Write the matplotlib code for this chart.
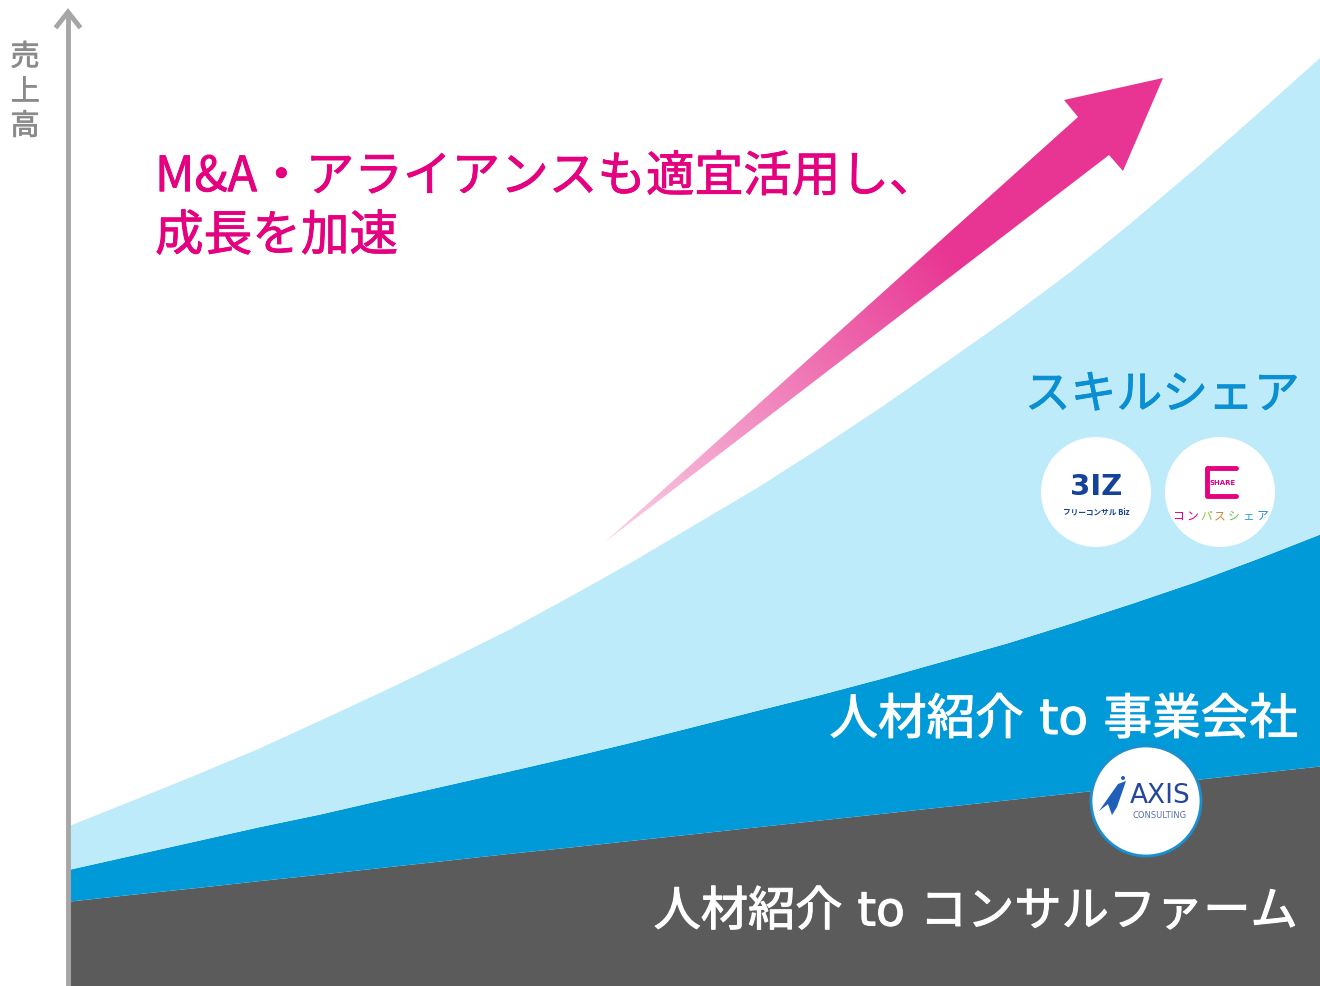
import numpy as np
import matplotlib.pyplot as plt
from matplotlib.patches import Polygon, Circle
import matplotlib.patheffects as pe

plt.rcParams['font.family'] = ['Noto Sans CJK JP', 'DejaVu Sans']

# sales over an arbitrary time index; upper edge of each stacked band
years = [0, 0.5, 1, 1.5, 2, 2.5, 3, 3.5, 4, 4.5, 5, 5.5, 6, 6.5, 7, 7.5, 8, 8.5, 9, 9.5, 10]
top_firm = [8.61, 9.30, 9.96, 10.66, 11.33, 12.03, 12.72, 13.42, 14.08, 14.77, 15.45,
            16.14, 16.82, 17.50, 18.19, 18.87, 19.55, 20.24, 20.92, 21.61, 22.29]
top_biz = [11.85, 13.27, 14.69, 16.11, 17.43, 18.89, 20.32, 21.75, 23.21, 24.74, 26.34,
           27.95, 29.53, 31.21, 32.99, 34.78, 36.75, 38.81, 40.96, 43.32, 45.80]
top_skill = [16.31, 18.84, 21.40, 24.05, 26.95, 29.89, 32.93, 36.07, 39.51, 43.06, 46.81,
             50.56, 54.61, 58.81, 63.22, 67.68, 72.39, 77.51, 82.88, 88.45, 94.12]

layer_colors = ['#5b5b5b', '#009ad9', '#bdebfa']
y_label = '売\n上\n高'
headline = 'M&A・アライアンスも適宜活用し、\n成長を加速'
lbl_skill = 'スキルシェア'
lbl_biz = '人材紹介 to 事業会社'
lbl_firm = '人材紹介 to コンサルファーム'

W, H = 1320, 987
fig = plt.figure(figsize=(W / 100, H / 100), dpi=100)
fig.patch.set_facecolor('white')

# main stacked area
ax = fig.add_axes([70 / W, 0, 1250 / W, 1])
ax.fill_between(years, 0, top_firm, color=layer_colors[0], lw=0)
ax.fill_between(years, top_firm, top_biz, color=layer_colors[1], lw=0)
ax.fill_between(years, top_biz, top_skill, color=layer_colors[2], lw=0)
ax.set_xlim(0, 10)
ax.set_ylim(0, 100)
ax.axis('off')

# overlay in pixel coords for decorations
ov = fig.add_axes([0, 0, 1, 1])
ov.set_xlim(0, W)
ov.set_ylim(H, 0)
ov.axis('off')
ov.patch.set_alpha(0)


def thick(c, w=1.0):
    return [pe.withStroke(linewidth=w, foreground=c)]


# y axis arrow
ov.plot([68, 68], [H, 14], color='#a6a6a6', lw=3.5, solid_capstyle='butt')
ov.plot([57, 68, 79], [27, 13, 27], color='#a6a6a6', lw=3.5, solid_joinstyle='miter')
ov.text(25, 93, y_label, ha='center', va='center', fontsize=21, color='#8a8a8a',
        linespacing=1.2, path_effects=thick('#8a8a8a', 0.5))

# growth arrow with gradient
pts = np.array([[605, 543], [1078, 118], [1064, 101], [1163, 79],
                [1123, 172], [1109, 156]])
poly = Polygon(pts, closed=True, fc='none', ec='none')
ov.add_patch(poly)
x0, x1, y0, y1 = 600, 1170, 75, 550
gx, gy = np.meshgrid(np.linspace(x0, x1, 300), np.linspace(y0, y1, 300))
d = np.array([1163 - 605, 79 - 543], dtype=float)
t = ((gx - 605) * d[0] + (gy - 543) * d[1]) / (d @ d)
t = np.clip(t, 0, 1)
c0 = np.array([0xf9, 0xd3, 0xe6]) / 255
c1 = np.array([0xe8, 0x34, 0x92]) / 255
tt = np.clip(t * 1.6, 0, 1)[..., None]
img = c0 * (1 - tt) + c1 * tt
im = ov.imshow(img, extent=[x0, x1, y1, y0], origin='upper', aspect='auto', zorder=3)
im.set_clip_path(poly)

# texts
ov.text(155, 208, headline, ha='left', va='center', fontsize=35, color='#e4007f',
        linespacing=1.25, path_effects=thick('#e4007f', 0.6))
ov.text(1300, 396, lbl_skill, ha='right', va='center', fontsize=33, color='#0a8fd3',
        zorder=5, path_effects=thick('#0a8fd3', 0.6))
ov.text(1298, 721, lbl_biz, ha='right', va='center', fontsize=35, color='white', zorder=5,
        family=['DejaVu Sans', 'Noto Sans CJK JP'], path_effects=thick('white', 0.8))
ov.text(1298, 914, lbl_firm, ha='right', va='center', fontsize=34, color='white', zorder=5,
        family=['DejaVu Sans', 'Noto Sans CJK JP'], path_effects=thick('white', 0.8))

# logo circles
ov.add_patch(Circle((1096, 493), 55, fc='white', ec='none', zorder=4))
ov.add_patch(Circle((1220, 493), 55, fc='white', ec='none', zorder=4))
ov.add_patch(Circle((1146, 802), 55, fc='white', ec='#1a8fd0', lw=2, zorder=4))

# Biz logo
ov.text(1096, 487, '3IZ', ha='center', va='center', fontsize=21, color='#16439a',
        fontweight='bold', family='DejaVu Sans', zorder=6)
ov.text(1096, 512, 'フリーコンサル Biz', ha='center', va='center', fontsize=5.5,
        color='#16439a', fontweight='bold', zorder=6)

# Compass share logo
ov.plot([1236, 1207, 1207, 1236], [469, 469, 497, 497], color='#e4007f', lw=3.5,
        solid_joinstyle='round', solid_capstyle='round', zorder=6)
ov.text(1223, 483, 'SHARE', ha='center', va='center', fontsize=5, color='#e4007f',
        fontweight='bold', family='DejaVu Sans', zorder=6)
cmp_chars = list('コンパスシェア')
cmp_cols = ['#e4007f', '#e4007f', '#8cc63f', '#c8863a', '#6dbf4b', '#29a7d6', '#1e88d0']
for i, (ch, cc) in enumerate(zip(cmp_chars, cmp_cols)):
    ov.text(1178 + i * 14, 516, ch, ha='center', va='center', fontsize=8.5, color=cc, zorder=6)

# AXIS logo
sw = np.array([[1099, 812], [1118, 785], [1126, 782], [1117, 808], [1112, 816], [1108, 805]])
ov.add_patch(Polygon(sw, closed=True, fc='#1f5fb8', ec='none', zorder=6))
ov.add_patch(Circle((1123, 779), 2, fc='#1f5fb8', ec='none', zorder=6))
ov.text(1160, 796, 'AXIS', ha='center', va='center', fontsize=19, color='#23479a',
        family='DejaVu Sans', zorder=6)
ov.text(1160, 815, 'CONSULTING', ha='center', va='center', fontsize=6, color='#5a6fa8',
        family='DejaVu Sans', zorder=6)

fig.savefig('out.png', dpi=100)
